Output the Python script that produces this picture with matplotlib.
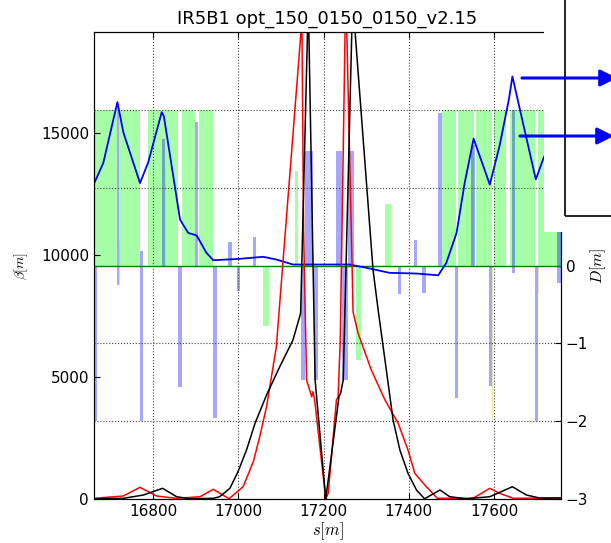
import matplotlib
matplotlib.use("Agg")
from matplotlib import pyplot as plt
from matplotlib.patches import Rectangle

plt.rcParams['mathtext.fontset'] = 'cm'
plt.rcParams['font.size'] = 11

title = "IR5B1 opt_150_0150_0150_v2.15"

# beta function (red / black), s in m, beta in m
red_s = [16661, 16730, 16769, 16808, 16855, 16910, 16941, 16978, 17011, 17035,
         17050, 17066, 17089, 17149, 17153, 17160, 17172, 17175, 17179, 17205,
         17211, 17230, 17234, 17239, 17252, 17267, 17269, 17281, 17312, 17344,
         17375, 17398, 17414, 17441, 17467, 17551, 17590, 17613, 17645, 17757]
red_b = [29, 123, 480, 123, 29, 94, 398, 10, 504, 1529,
         2554, 3784, 6244, 19630, 11000, 4880, 4194, 4400, 4059, 0.15,
         246, 4059, 4194, 6500, 21000, 9389, 7679, 6794, 5289, 4059,
         3104, 2009, 1054, 504, 29, 29, 439, 234, 29, 41]

black_s = [16661, 16730, 16777, 16822, 16855, 16886, 16941, 16956, 16980, 16999,
           17019, 17039, 17066, 17097, 17128, 17146, 17164, 17180, 17205, 17236,
           17240, 17246, 17268, 17316, 17328, 17344, 17363, 17379, 17398, 17418,
           17437, 17473, 17496, 17535, 17590, 17643, 17676, 17707, 17757]
black_b = [10, 29, 164, 439, 94, 10, 29, 94, 439, 1119,
           2009, 3104, 4264, 5424, 6519, 7614, 20500, 4879, 0.15, 4194,
           4346, 4879, 20500, 9389, 7749, 5699, 3239, 2009, 1054, 369,
           10, 369, 94, 10, 94, 504, 164, 41, 41]

# dispersion (blue), right axis
disp_s = [16661, 16683, 16716, 16730, 16769, 16788, 16820, 16825, 16847, 16863,
          16882, 16902, 16925, 16941, 17003, 17058, 17089, 17128, 17261, 17301,
          17355, 17418, 17469, 17488, 17512, 17531, 17552, 17590, 17613, 17635,
          17643, 17698, 17715, 17757]
disp_d = [1.05, 1.32, 2.10, 1.71, 1.06, 1.32, 1.97, 1.92, 1.15, 0.59,
          0.42, 0.386, 0.163, 0.068, 0.086, 0.112, 0.077, 0.013, 0.013, -0.03,
          -0.094, -0.103, -0.125, 0.035, 0.42, 1.06, 1.63, 1.04, 1.54, 2.14,
          2.43, 1.107, 1.364, 1.9]

# dipoles: start, end, height
dip_start = [16650, 16720, 16788, 16867, 16908, 17058, 17133, 17277, 17344,
             17477, 17515, 17557, 17601, 17637, 17703]
dip_end = [16714, 16769, 16859, 16899, 16941, 17072, 17140, 17287, 17359,
           17510, 17552, 17596, 17627, 17695, 17770]
dip_h = [2.0, 2.0, 2.0, 2.0, 2.0, -0.78, 1.21, -1.21, 0.785,
         2.0, 2.0, 2.0, 2.0, 2.0, 2.0]

# quadrupoles: start, end, bottom, top
quad_start = [16661, 16714, 16769, 16820, 16859, 16898, 16941, 16976, 16996, 17035,
              17147, 17157, 17178, 17230, 17242, 17258,
              17375, 17412, 17432, 17469, 17508, 17547, 17588, 17641, 17695, 17747]
quad_end = [16667, 16720, 16775, 16828, 16867, 16906, 16949, 16984, 17003, 17041,
            17157, 17175, 17187, 17242, 17258, 17272,
            17381, 17419, 17440, 17477, 17516, 17555, 17596, 17649, 17703, 17757]
quad_lo = [-2.0, -0.25, -2.0, 0, -1.56, 0, -1.96, 0, -0.33, 0,
           -1.47, 0, -1.47, 0, -1.47, 0,
           -0.37, 0, -0.35, 0, -1.70, 0, -1.55, -0.09, -2.0, -0.22]
quad_hi = [0, 2.07, 0.185, 1.62, 0, 1.84, 0, 0.30, 0, 0.37,
           0, 1.47, 0, 1.47, 0, 1.47,
           0, 0.33, 0, 1.96, 0, 1.55, 0, 2.0, 0, 2.0]

# sextupoles etc (thin yellow)
sext_start = [16720, 16775, 16828, 17594, 17648, 17702]
sext_end = [16722, 16777, 16830, 17597, 17650, 17705]
sext_lo = [-0.245, -2.0, 0, -2.0, 0, -0.35]
sext_hi = [0.31, 0, 1.24, 0, 1.17, 0]

fig = plt.figure(figsize=(6.11, 5.43), dpi=100)
ax = fig.add_axes([0.1538, 0.081, 0.7643, 0.860])
ax2 = ax.twinx()
ax.set_zorder(ax2.get_zorder() + 1)
ax.patch.set_visible(False)
ax2.patch.set_visible(True)
ax2.patch.set_facecolor('white')

# elements on the D axis
for a, b, h in zip(dip_start, dip_end, dip_h):
    ax2.bar(a, h, width=b - a, bottom=0, align='edge', color='lime', alpha=0.35, lw=0)
for a, b, lo, hi in zip(quad_start, quad_end, quad_lo, quad_hi):
    ax2.bar(a, hi - lo, width=b - a, bottom=lo, align='edge', color='b', alpha=0.35, lw=0)
for a, b, lo, hi in zip(sext_start, sext_end, sext_lo, sext_hi):
    ax2.bar(a, hi - lo, width=b - a, bottom=lo, align='edge', color='y', alpha=0.35, lw=0)
ax2.axhline(0, color='g', lw=1)

ax2.plot(disp_s, disp_d, color='b', lw=1.3)
ax.plot(red_s, red_b, color='r', lw=1.1)
ax.plot(black_s, black_b, color='k', lw=1.1)

ax.set_xlim(16661, 17757)
ax.set_ylim(0, 19150)
ax2.set_ylim(-3, 3)
ax.set_xticks([16800, 17000, 17200, 17400, 17600])
ax.set_yticks([0, 5000, 10000, 15000])
ax2.set_yticks([-3, -2, -1, 0, 1, 2, 3])

ax.grid(True, axis='x', linestyle=':', color='0.25', lw=0.8)
ax2.grid(True, axis='y', linestyle=':', color='0.25', lw=0.8)
ax.tick_params(direction='in', top=True, length=4)
ax2.tick_params(direction='in', length=4)

ax.set_title(title, fontsize=13)
ax.set_xlabel(r'$s[m]$', fontsize=12, labelpad=1)
ax.set_ylabel(r'$\beta[m]$', fontsize=10, labelpad=8)
ax2.set_ylabel(r'$D[m]$', fontsize=11.5, labelpad=0)

# white box / legend frame at the top right
fig.add_artist(Rectangle((0.890, 0.5727), 0.2, 0.5, transform=fig.transFigure,
                         facecolor='white', edgecolor='none', zorder=10))
fig.add_artist(Rectangle((0.924, 0.6013), 0.2, 0.5, transform=fig.transFigure,
                         fill=False, edgecolor='k', lw=1.2, zorder=11))

for x0, y0, x1 in [(522, 543 - 78, 617), (520, 543 - 136, 614)]:
    ann = ax.annotate('', xy=(x1, y0), xycoords='figure pixels',
                      xytext=(x0, y0), textcoords='figure pixels',
                      arrowprops=dict(arrowstyle='-|>', color='b', lw=2.2,
                                      mutation_scale=25, shrinkA=0, shrinkB=0),
                      annotation_clip=False)
    ann.set_zorder(12)
    ann.remove()
    fig.add_artist(ann)

plt.savefig("out.png", dpi=100)
